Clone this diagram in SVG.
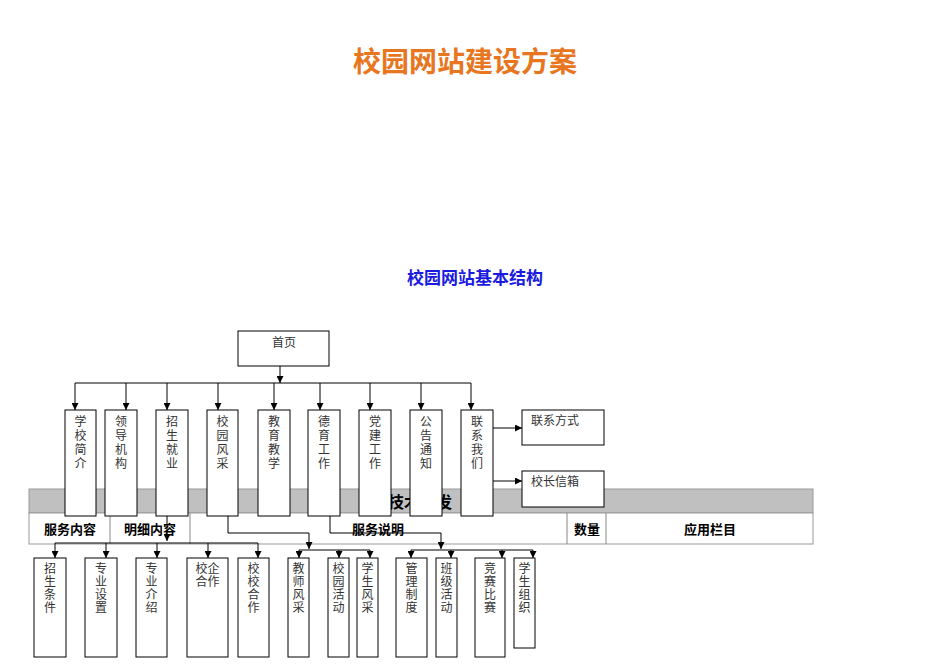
<svg xmlns="http://www.w3.org/2000/svg" width="950" height="672" viewBox="0 0 950 672">
<style>
.b{fill:#fff;stroke:#000;stroke-width:1}
.t{font-family:"Liberation Serif","Noto Sans CJK SC",serif;font-size:12px;fill:#333;text-anchor:middle}
.h{font-family:"Liberation Sans","Noto Sans CJK SC",sans-serif;font-size:13px;font-weight:bold;fill:#000;text-anchor:middle}
.c{fill:none;stroke:#000;stroke-width:1}
.ar{fill:none;stroke:#000;stroke-width:1;marker-end:url(#a)}
.g{fill:none;stroke:#888;stroke-width:1}
</style>
<defs><marker id="a" viewBox="0 0 10 10" refX="10" refY="5" markerWidth="7" markerHeight="7" orient="auto"><path d="M0,0L10,5L0,10z" fill="#000"/></marker></defs>
<rect width="950" height="672" fill="#fff"/>
<text x="465" y="72" font-family="Liberation Serif,Noto Sans CJK SC,serif" font-size="28" font-weight="bold" fill="#E8761E" text-anchor="middle">校园网站建设方案</text>
<text x="475" y="284" font-family="Liberation Sans,Noto Sans CJK SC,sans-serif" font-size="17" font-weight="bold" fill="#1A1AE0" text-anchor="middle">校园网站基本结构</text>
<g id="table">
<rect x="29" y="489" width="784" height="24" fill="#c0c0c0" stroke="#999"/>
<rect x="29" y="513" width="784" height="31" fill="#fff" stroke="#999"/>
<path class="g" d="M110,513V544M190,513V544M567,513V544M606,513V544"/>
<text x="420" y="508" font-family="Liberation Sans,Noto Sans CJK SC,sans-serif" font-size="16" font-weight="bold" text-anchor="middle">技术开发</text>
<text class="h" x="70" y="534">服务内容</text><text class="h" x="150" y="534">明细内容</text><text class="h" x="378" y="534">服务说明</text><text class="h" x="587" y="534">数量</text><text class="h" x="710" y="534">应用栏目</text>
</g>
<g id="connectors">
<path class="ar" d="M280,366V383"/>
<path class="c" d="M75,383H471"/>
<path class="ar" d="M75,383V410"/><path class="ar" d="M126,383V410"/><path class="ar" d="M167,383V410"/><path class="ar" d="M218,383V410"/><path class="ar" d="M274,383V410"/><path class="ar" d="M320,383V410"/><path class="ar" d="M370,383V410"/><path class="ar" d="M421,383V410"/><path class="ar" d="M471,383V410"/>
<path class="ar" d="M493,428H522"/><path class="ar" d="M493,481H522"/>
<path class="ar" d="M167,516V541"/>
<path class="c" d="M55,543H258"/>
<path class="ar" d="M55,543V558"/><path class="ar" d="M106,543V558"/><path class="ar" d="M157,543V558"/><path class="ar" d="M208,543V558"/><path class="ar" d="M258,543V558"/>
<path class="ar" d="M228,516V533H309V549"/>
<path class="c" d="M299,550H370"/>
<path class="ar" d="M299,550V558"/><path class="ar" d="M339,550V558"/><path class="ar" d="M370,550V558"/>
<path class="ar" d="M330,516V533H441V549"/>
<path class="c" d="M411,550H533"/>
<path class="ar" d="M411,550V558"/><path class="ar" d="M451,550V558"/><path class="ar" d="M502,550V558"/><path class="ar" d="M533,550V558"/>
</g>
<g id="home"><rect class="b" x="238" y="331" width="91" height="35"/><text class="t" x="284" y="347">首页</text></g>
<g id="l1">
<g id="n1"><rect class="b" x="65" y="410" width="31" height="106"/><text class="t" x="80.5" y="426"><tspan x="80.5">学</tspan><tspan x="80.5" dy="14">校</tspan><tspan x="80.5" dy="14">简</tspan><tspan x="80.5" dy="14">介</tspan></text></g>
<g id="n2"><rect class="b" x="105" y="410" width="32" height="106"/><text class="t" x="121" y="426"><tspan x="121">领</tspan><tspan x="121" dy="14">导</tspan><tspan x="121" dy="14">机</tspan><tspan x="121" dy="14">构</tspan></text></g>
<g id="n3"><rect class="b" x="156" y="410" width="32" height="106"/><text class="t" x="172" y="426"><tspan x="172">招</tspan><tspan x="172" dy="14">生</tspan><tspan x="172" dy="14">就</tspan><tspan x="172" dy="14">业</tspan></text></g>
<g id="n4"><rect class="b" x="207" y="410" width="31" height="106"/><text class="t" x="222.5" y="426"><tspan x="222.5">校</tspan><tspan x="222.5" dy="14">园</tspan><tspan x="222.5" dy="14">风</tspan><tspan x="222.5" dy="14">采</tspan></text></g>
<g id="n5"><rect class="b" x="258" y="410" width="32" height="106"/><text class="t" x="274" y="426"><tspan x="274">教</tspan><tspan x="274" dy="14">育</tspan><tspan x="274" dy="14">教</tspan><tspan x="274" dy="14">学</tspan></text></g>
<g id="n6"><rect class="b" x="308" y="410" width="32" height="106"/><text class="t" x="324" y="426"><tspan x="324">德</tspan><tspan x="324" dy="14">育</tspan><tspan x="324" dy="14">工</tspan><tspan x="324" dy="14">作</tspan></text></g>
<g id="n7"><rect class="b" x="359" y="410" width="32" height="106"/><text class="t" x="375" y="426"><tspan x="375">党</tspan><tspan x="375" dy="14">建</tspan><tspan x="375" dy="14">工</tspan><tspan x="375" dy="14">作</tspan></text></g>
<g id="n8"><rect class="b" x="410" y="410" width="32" height="106"/><text class="t" x="426" y="426"><tspan x="426">公</tspan><tspan x="426" dy="14">告</tspan><tspan x="426" dy="14">通</tspan><tspan x="426" dy="14">知</tspan></text></g>
<g id="n9"><rect class="b" x="461" y="410" width="32" height="106"/><text class="t" x="477" y="426"><tspan x="477">联</tspan><tspan x="477" dy="14">系</tspan><tspan x="477" dy="14">我</tspan><tspan x="477" dy="14">们</tspan></text></g>
</g>
<g id="lx"><rect class="b" x="522" y="410" width="82" height="35"/><text class="t" x="555" y="425">联系方式</text></g>
<g id="xz"><rect class="b" x="522" y="471" width="82" height="36"/><text class="t" x="555" y="486">校长信箱</text></g>
<g id="l2">
<g id="m1"><rect class="b" x="34" y="558" width="32" height="99"/><text class="t" x="50" y="573"><tspan x="50">招</tspan><tspan x="50" dy="13">生</tspan><tspan x="50" dy="13">条</tspan><tspan x="50" dy="13">件</tspan></text></g>
<g id="m2"><rect class="b" x="85" y="558" width="32" height="99"/><text class="t" x="101" y="573"><tspan x="101">专</tspan><tspan x="101" dy="13">业</tspan><tspan x="101" dy="13">设</tspan><tspan x="101" dy="13">置</tspan></text></g>
<g id="m3"><rect class="b" x="136" y="558" width="31" height="99"/><text class="t" x="151.5" y="573"><tspan x="151.5">专</tspan><tspan x="151.5" dy="13">业</tspan><tspan x="151.5" dy="13">介</tspan><tspan x="151.5" dy="13">绍</tspan></text></g>
<g id="m4"><rect class="b" x="187" y="558" width="41" height="99"/><text class="t" x="207.5" y="573"><tspan x="207.5">校企</tspan><tspan x="207.5" dy="13">合作</tspan></text></g>
<g id="m5"><rect class="b" x="238" y="558" width="31" height="99"/><text class="t" x="253.5" y="573"><tspan x="253.5">校</tspan><tspan x="253.5" dy="13">校</tspan><tspan x="253.5" dy="13">合</tspan><tspan x="253.5" dy="13">作</tspan></text></g>
<g id="m6"><rect class="b" x="288" y="558" width="21" height="99"/><text class="t" x="298.5" y="573"><tspan x="298.5">教</tspan><tspan x="298.5" dy="13">师</tspan><tspan x="298.5" dy="13">风</tspan><tspan x="298.5" dy="13">采</tspan></text></g>
<g id="m7"><rect class="b" x="328" y="558" width="21" height="99"/><text class="t" x="338.5" y="573"><tspan x="338.5">校</tspan><tspan x="338.5" dy="13">园</tspan><tspan x="338.5" dy="13">活</tspan><tspan x="338.5" dy="13">动</tspan></text></g>
<g id="m8"><rect class="b" x="357" y="558" width="21" height="99"/><text class="t" x="367.5" y="573"><tspan x="367.5">学</tspan><tspan x="367.5" dy="13">生</tspan><tspan x="367.5" dy="13">风</tspan><tspan x="367.5" dy="13">采</tspan></text></g>
<g id="m9"><rect class="b" x="396" y="558" width="31" height="99"/><text class="t" x="411.5" y="573"><tspan x="411.5">管</tspan><tspan x="411.5" dy="13">理</tspan><tspan x="411.5" dy="13">制</tspan><tspan x="411.5" dy="13">度</tspan></text></g>
<g id="m10"><rect class="b" x="436" y="558" width="21" height="99"/><text class="t" x="446.5" y="573"><tspan x="446.5">班</tspan><tspan x="446.5" dy="13">级</tspan><tspan x="446.5" dy="13">活</tspan><tspan x="446.5" dy="13">动</tspan></text></g>
<g id="m11"><rect class="b" x="475" y="558" width="30" height="99"/><text class="t" x="490" y="573"><tspan x="490">竞</tspan><tspan x="490" dy="13">赛</tspan><tspan x="490" dy="13">比</tspan><tspan x="490" dy="13">赛</tspan></text></g>
<g id="m12"><rect class="b" x="514" y="558" width="21" height="90"/><text class="t" x="524.5" y="573"><tspan x="524.5">学</tspan><tspan x="524.5" dy="13">生</tspan><tspan x="524.5" dy="13">组</tspan><tspan x="524.5" dy="13">织</tspan></text></g>
</g>
</svg>
